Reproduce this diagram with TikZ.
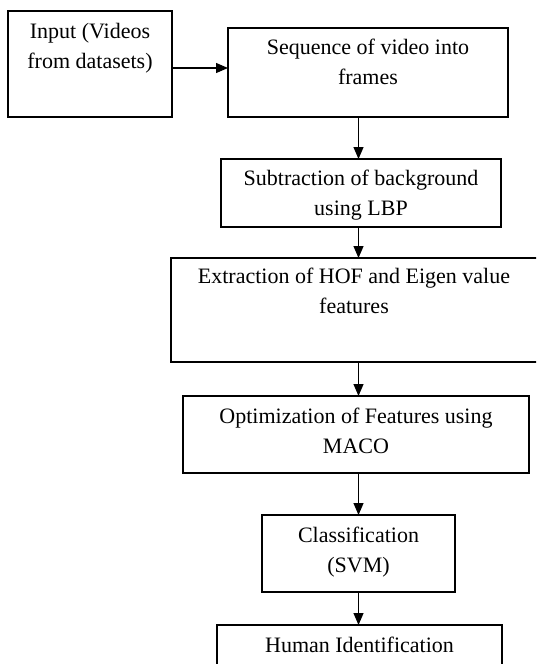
\documentclass[tikz,border=0pt]{standalone}
\usepackage{fontspec}
\setmainfont{Liberation Serif}
\usetikzlibrary{arrows.meta,calc}
\begin{document}
\begin{tikzpicture}[x=1pt,y=-1pt,
  box/.style={draw, line width=1.1pt, anchor=north west, inner sep=0pt, outer sep=0pt},
  txt/.style={font=\fontsize{22}{30}\selectfont, align=center, inner sep=0pt, anchor=base},
  arr/.style={-{Triangle[length=12pt,width=10pt]}, line width=1.1pt}]
\useasboundingbox (0,0) rectangle (536,664);
\clip (0,0) rectangle (536,664);
\node[box, minimum width=164pt, minimum height=106pt] (in) at (8,11) {};
\node[box, minimum width=280pt, minimum height=89pt] (seq) at (228,28) {};
\node[box, minimum width=280pt, minimum height=68pt] (sub) at (221,159) {};
\node[box, minimum width=368pt, minimum height=104pt] (ext) at (171,258) {};
\node[box, minimum width=346pt, minimum height=77pt] (opt) at (183,396) {};
\node[box, minimum width=193pt, minimum height=77pt] (cls) at (262,515) {};
\node[box, minimum width=285pt, minimum height=60pt] (hum) at (217,625) {};
\node[txt] (inT) at ($(in.north)+(0,57)$) {Input (Videos\\from datasets)};
\node[txt] (seqT) at ($(seq.north)+(0,56)$) {Sequence of video into\\frames};
\node[txt] (subT) at ($(sub.north)+(0,56)$) {Subtraction of background\\using LBP};
\node[txt] (extT) at ($(ext.north)+(-1,55)$) {Extraction of HOF and Eigen value\\features};
\node[txt] (optT) at ($(opt.north)+(0,57)$) {Optimization of Features using\\MACO};
\node[txt] (clsT) at ($(cls.north)+(0,57)$) {Classification\\(SVM)};
\node[txt] (humT) at ($(hum.north)+(0,27)$) {Human Identification};
\coordinate (ax) at (358.5,0);
\coordinate (hy) at (0,68);
\draw[arr] (in.east |- hy) -- (seq.west |- hy);
\draw[arr] (seq.south -| ax) -- (sub.north -| ax);
\draw[arr] (sub.south -| ax) -- (ext.north -| ax);
\draw[arr] (ext.south -| ax) -- (opt.north -| ax);
\draw[arr] (opt.south -| ax) -- (cls.north -| ax);
\draw[arr] (cls.south -| ax) -- (hum.north -| ax);
\end{tikzpicture}
\end{document}
